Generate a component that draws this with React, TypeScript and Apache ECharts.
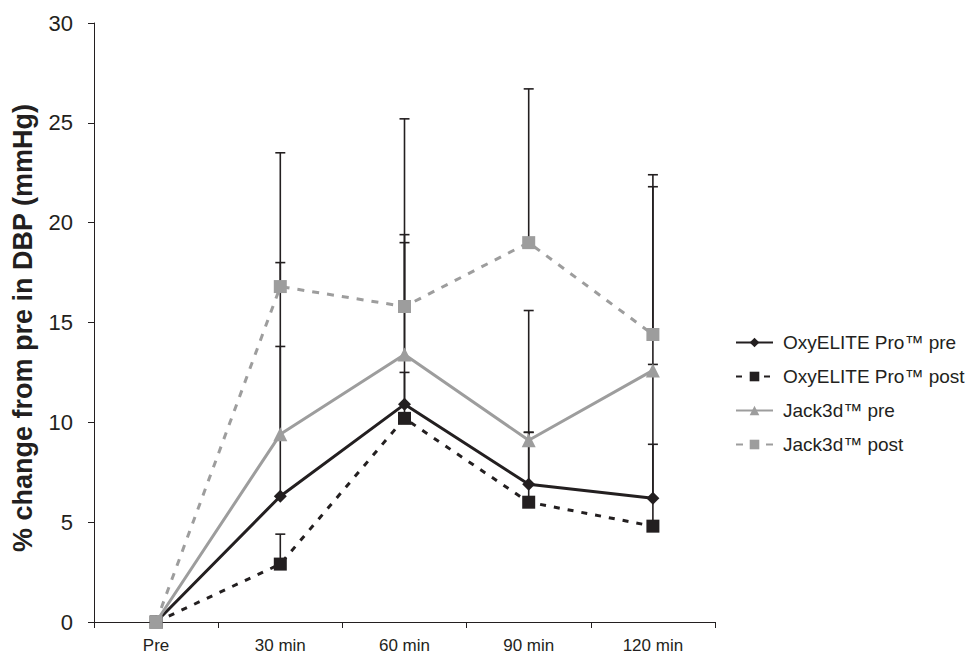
import React, { useEffect, useRef } from "react";
import * as echarts from "echarts";

const categories = ["Pre", "30 min", "60 min", "90 min", "120 min"];
const oxyPre = [0, 6.3, 10.9, 6.9, 6.2];
const oxyPost = [0, 2.9, 10.2, 6.0, 4.8];
const jackPre = [0, 9.4, 13.4, 9.1, 12.6];
const jackPost = [0, 16.8, 15.8, 19.0, 14.4];
// upper ends of the error bars
const oxyPreTop = [null, 13.8, 19.0, 9.5, 12.9];
const oxyPostTop = [null, 4.4, 12.5, 9.5, 8.9];
const jackPreTop = [null, 18.0, 19.4, 15.6, 21.8];
const jackPostTop = [null, 23.5, 25.2, 26.7, 22.4];

const yTitle = "% change from pre in DBP (mmHg)";
const names = ["OxyELITE Pro™ pre", "OxyELITE Pro™ post", "Jack3d™ pre", "Jack3d™ post"];
const DARK = "#231f20";
const GRAY = "#9d9d9d";
const FONT = "Liberation Sans, Arial, sans-serif";

function errData(vals: number[], tops: (number | null)[]) {
  const out: number[][] = [];
  vals.forEach((v, i) => {
    const t = tops[i];
    if (t !== null && t !== undefined) out.push([i, v, t]);
  });
  return out;
}

export default function App() {
  const ref = useRef<HTMLDivElement>(null);
  useEffect(() => {
    if (!ref.current) return;
    const chart = echarts.init(ref.current, null, { renderer: "svg" });
    const errSeries = [
      errData(oxyPre, oxyPreTop),
      errData(oxyPost, oxyPostTop),
      errData(jackPre, jackPreTop),
      errData(jackPost, jackPostTop),
    ].map((d) => ({
      type: "custom",
      data: d,
      z: 1,
      silent: true,
      encode: { x: 0, y: [1, 2] },
      renderItem: (params: any, api: any) => {
        const x = api.value(0);
        const p0 = api.coord([x, api.value(1)]);
        const p1 = api.coord([x, api.value(2)]);
        return {
          type: "group",
          children: [
            { type: "line", shape: { x1: p0[0], y1: p0[1], x2: p1[0], y2: p1[1] }, style: { stroke: DARK, lineWidth: 1.6 } },
            { type: "line", shape: { x1: p1[0] - 5, y1: p1[1], x2: p1[0] + 5, y2: p1[1] }, style: { stroke: DARK, lineWidth: 1.6 } },
          ],
        };
      },
    }));
    const option: any = {
      animation: false,
      textStyle: { fontFamily: FONT },
      grid: { left: 94, right: 256, top: 23, bottom: 37 },
      graphic: [
        {
          type: "text",
          x: 23,
          y: 328,
          rotation: Math.PI / 2,
          style: {
            text: yTitle,
            fontFamily: FONT,
            fontSize: 27,
            fontWeight: "bold",
            fill: DARK,
            align: "center",
            verticalAlign: "middle",
          },
        },
      ],
      legend: {
        orient: "vertical",
        left: 735,
        top: 333,
        padding: 0,
        itemGap: 15,
        itemWidth: 37,
        itemHeight: 12,
        data: names,
        textStyle: { fontFamily: FONT, fontSize: 19, color: DARK, padding: [0, 0, 0, 5] },
      },
      xAxis: {
        type: "category",
        data: categories,
        boundaryGap: true,
        axisLine: { lineStyle: { color: DARK, width: 1 } },
        axisTick: { show: true, length: 6, lineStyle: { color: DARK } },
        axisLabel: { fontFamily: FONT, fontSize: 17, color: DARK, margin: 15 },
      },
      yAxis: {
        type: "value",
        min: 0,
        max: 30,
        interval: 5,
        axisLine: { show: true, lineStyle: { color: DARK, width: 1 } },
        axisTick: { show: true, length: 6, lineStyle: { color: DARK } },
        splitLine: { show: false },
        axisLabel: { fontFamily: FONT, fontSize: 22, color: DARK, margin: 21 },
      },
      series: [
        ...errSeries,
        {
          name: names[0],
          type: "line",
          data: oxyPre,
          z: 3,
          symbol: "diamond",
          symbolSize: 13,
          lineStyle: { color: DARK, width: 3 },
          itemStyle: { color: DARK },
        },
        {
          name: names[1],
          type: "line",
          data: oxyPost,
          z: 3,
          symbol: "rect",
          symbolSize: 13,
          lineStyle: { color: DARK, width: 3, type: [6, 8] },
          itemStyle: { color: DARK },
        },
        {
          name: names[2],
          type: "line",
          data: jackPre,
          z: 4,
          symbol: "triangle",
          symbolSize: 14,
          lineStyle: { color: GRAY, width: 3 },
          itemStyle: { color: GRAY },
        },
        {
          name: names[3],
          type: "line",
          data: jackPost,
          z: 5,
          symbol: "rect",
          symbolSize: 13,
          lineStyle: { color: GRAY, width: 3, type: [7, 8] },
          itemStyle: { color: GRAY },
        },
      ],
    };
    chart.setOption(option);
    return () => chart.dispose();
  }, []);
  return (
    <div
      ref={ref}
      style={{ position: "fixed", left: 0, top: 0, width: 971, height: 659, background: "#fff" }}
    />
  );
}
